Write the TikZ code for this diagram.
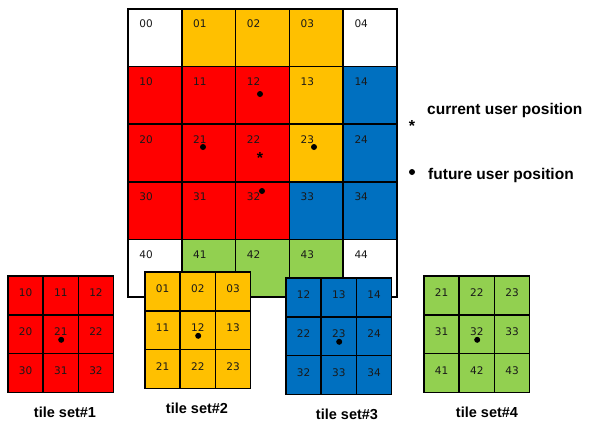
\documentclass[tikz,border=0pt]{standalone}
\usepackage{fontspec}
\setmainfont{Liberation Sans}
\newfontfamily\cellfont{DejaVu Sans}
\usetikzlibrary{positioning}
\definecolor{tilered}{RGB}{255,0,0}
\definecolor{tileyellow}{RGB}{255,192,0}
\definecolor{tileblue}{RGB}{0,112,192}
\definecolor{tilegreen}{RGB}{146,208,80}
\tikzset{
  tile/.style={
    draw=black,
    line width=1.5pt
  },
  num/.style={
    font=\cellfont\fontsize{10.5}{12}\selectfont,
    text=black!90,
    inner sep=0pt
  },
  fut/.style={
    circle,
    fill=black,
    inner sep=0pt,
    minimum size=6pt
  },
  cur/.style={
    font=\bfseries\fontsize{16}{16}\selectfont,
    inner sep=0pt
  },
  legend/.style={
    font=\bfseries\fontsize{15.5}{17}\selectfont,
    anchor=west,
    inner sep=0pt
  },
  setname/.style={
    font=\bfseries\fontsize{14.5}{16}\selectfont,
    inner sep=0pt
  }
}

\begin{document}
\begin{tikzpicture}[x=1pt,y=-1pt]
\useasboundingbox (0,0) rectangle (593,421);
% main 5x5 grid
\foreach \tc [count=\i from 0] in {white,tileyellow,tileyellow,tileyellow,white,
    tilered,tilered,tilered,tileyellow,tileblue,
    tilered,tilered,tilered,tileyellow,tileblue,
    tilered,tilered,tilered,tileblue,tileblue,
    white,tilegreen,tilegreen,tilegreen,white} {
  \pgfmathtruncatemacro\r{\i/5}
  \pgfmathtruncatemacro\k{mod(\i,5)}
  \filldraw[tile,fill=\tc] ({128+53.8*\k},{9+57.6*\r}) rectangle ++(53.8,57.6);
  \node[num] (m\r\k) at ({128+53.8*\k+18},{9+57.6*\r+15}) {\r\k};
}
\node[fut] (f12) at (260,94) {};
\node[fut] (f21) at (203,147) {};
\node[fut] (f23) at (314,147) {};
\node[fut] (f32) at (262,191) {};
\node[cur] (c22) at (260,158) {*};
% legend
\node[cur] (lcur) at (412,126) {*};
\node[fut] (lfut) at (412,172) {};
\node[legend] (tcur) at (427,110) {current user position};
\node[legend] (tfut) at (428,175) {future user position};
% tile sets
\foreach \s/\x/\y/\tc/\ro/\co/\lx in {1/8/276/tilered/1/0/65,
    2/145/272/tileyellow/0/1/197,
    3/286/278/tileblue/1/2/347,
    4/424/276/tilegreen/2/1/487} {
  \foreach \i in {0,1,2} {
    \foreach \j in {0,1,2} {
      \pgfmathtruncatemacro\rr{\ro+\i}
      \pgfmathtruncatemacro\cc{\co+\j}
      \filldraw[tile,fill=\tc] ({\x+35.2*\j},{\y+38.8*\i}) rectangle ++(35.2,38.8);
      \node[num] (s\s-\rr\cc) at ({\x+35.2*\j+17.6},{\y+38.8*\i+17}) {\rr\cc};
    }
  }
  \node[fut] (d\s) at ({\x+35.2+18},{\y+38.8+25}) {};
  \node[setname] (l\s) at (\lx,{\y+136}) {tile set\#\s};
}
\end{tikzpicture}
\end{document}
